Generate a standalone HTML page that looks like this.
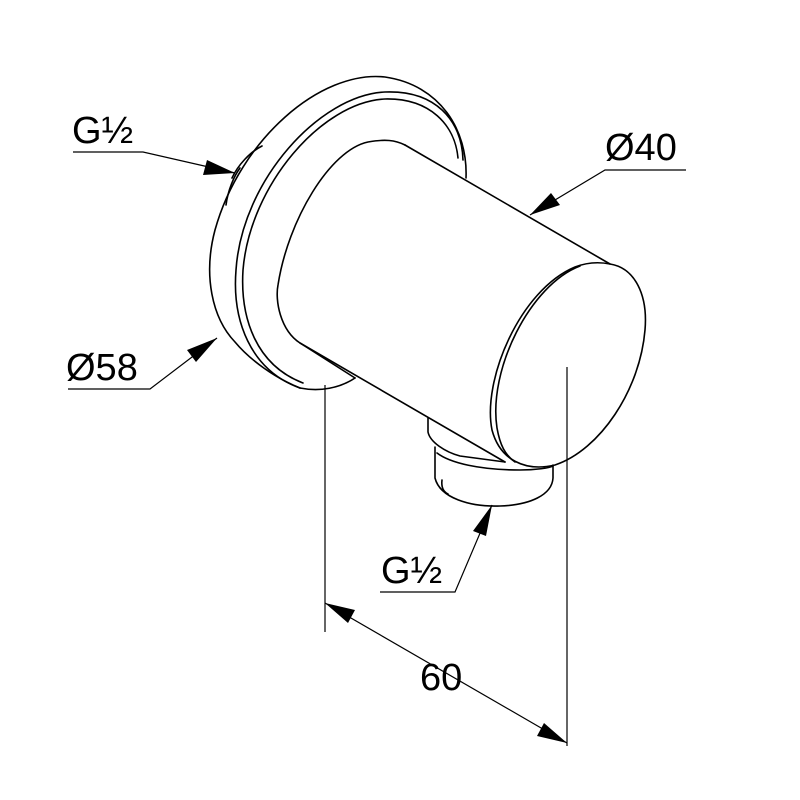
<!DOCTYPE html>
<html><head><style>body{margin:0;background:#fff}svg{display:block}</style></head><body>
<svg width="800" height="800" viewBox="0 0 800 800" xmlns="http://www.w3.org/2000/svg" font-family="Liberation Sans, sans-serif">
<g fill="none" stroke="#000" stroke-width="1.6" stroke-linecap="round" stroke-linejoin="round">
<!-- back G1/2 stub -->
<path d="M232,178 C238,165 250,152 262,146"/>
<path d="M226,205 C228,190 234,176 240,168"/>
<!-- flange back edge -->
<path d="M466,178 C468,130 440,85 385,77 C320,70 240,140 215,230 C203,275 212,318 235,342 C250,360 275,378 300,388"/>
<!-- flange front face outer -->
<path d="M300,388 C250,370 232,320 236,270 C242,180 320,95 385,92 C435,90 462,120 463,160"/>
<path d="M303,383 C256,365 240,318 243,270 C250,185 322,102 385,99 C430,98 455,125 458,158"/>
<!-- bottom arc of flange front -->
<path d="M300,388 C320,392 340,388 355,378"/>
<!-- cylinder back outline -->
<path d="M355,378 L300,343 C280,330 275,300 278,285 C288,220 330,150 368,142 C385,139 395,140 405,145"/>
<path d="M405,145 L610,264"/>
<path d="M300,343 L505,462"/>
<!-- end face -->
<path d="M610,264 C635,268 648,295 645,330 C640,390 600,450 555,465 C525,472 500,460 492,430 C482,380 520,290 575,267 C588,262 600,262 610,264 Z"/>
<path d="M580,266 C530,285 488,370 497,428 C500,445 505,455 515,462"/>
<!-- outlet collar -->
<path d="M428,418 L428,432 C430,442 445,452 460,456 L505,462"/>
<path d="M435,447 L435,478 C440,498 470,507 500,506 C530,505 552,495 553,478 L553,465"/>
<path d="M437,453 C450,463 480,470 520,470 C535,470 550,468 553,466"/>
<path d="M442,480 C441,488 444,492 448,494"/>
</g>
<!-- dimension lines -->
<g fill="none" stroke="#000" stroke-width="1.2">
<line x1="325" y1="385" x2="325" y2="632"/>
<line x1="567" y1="367" x2="567" y2="746"/>
<line x1="325" y1="603" x2="567" y2="743"/>
<polyline points="73,152 143,152 235,173"/>
<polyline points="68,389 150,389 217,338"/>
<polyline points="686,170 605,170 530,215"/>
<polyline points="380,592 455,592 492,505"/>
</g>
<g fill="#000">
<polygon points="235,173 203,175 207,160"/>
<polygon points="217,338 196,362 187,350"/>
<polygon points="530,215 551,193 560,205"/>
<polygon points="492,505 486,536 473,531"/>
<polygon points="325,603 355,610 348,623"/>
<polygon points="567,743 537,736 544,723"/>
</g>
<g font-size="38" fill="#000">
<text x="72" y="143">G½</text>
<text x="66" y="380">Ø58</text>
<text x="605" y="160">Ø40</text>
<text x="381" y="583">G½</text>
<text x="420" y="690">60</text>
</g>
</svg>
</body></html>
